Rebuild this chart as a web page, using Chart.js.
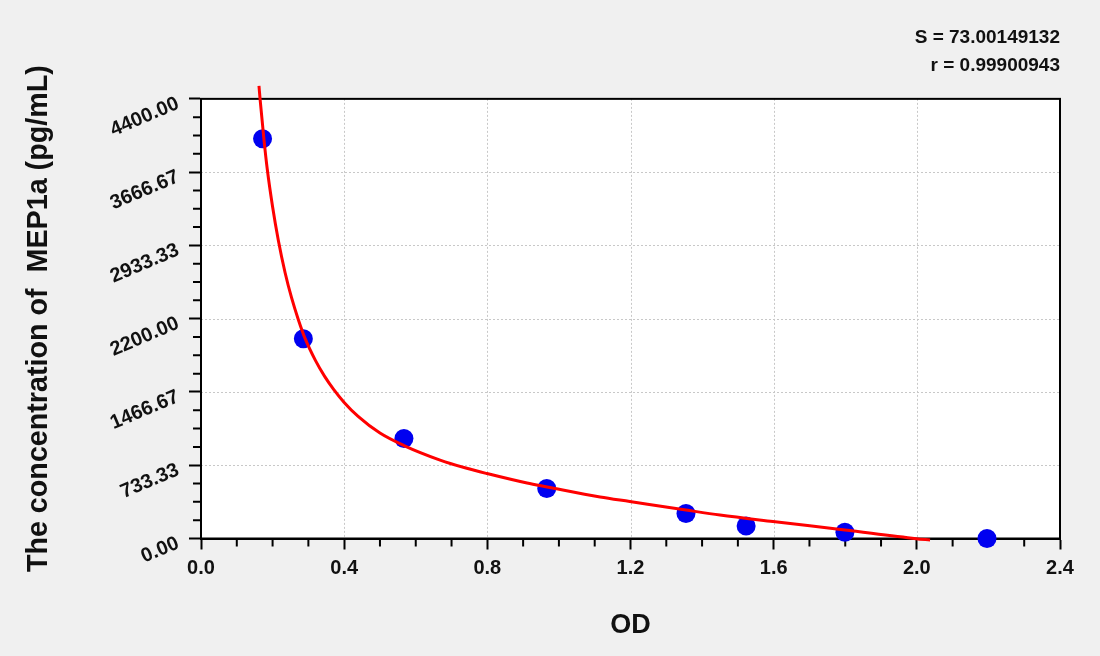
<!DOCTYPE html>
<html><head><meta charset="utf-8">
<script src="https://cdn.jsdelivr.net/npm/chart.js@4.4.1/dist/chart.umd.min.js"></script>
<style>html,body{margin:0;padding:0;background:#f0f0f0;}canvas{display:block;}</style>
</head><body>
<canvas id="c" width="1100" height="656"></canvas>
<script>
// Standards (OD vs concentration)
const standardOD = [0.172, 0.286, 0.567, 0.966, 1.355, 1.523, 1.799, 2.196];
const standardConc = [4000, 2000, 1000, 500, 250, 125, 62.5, 0];
// Fitted curve
const fitOD = [0.162, 0.165, 0.176, 0.185, 0.200, 0.216, 0.235, 0.253, 0.272, 0.291, 0.320, 0.345, 0.370, 0.400, 0.439, 0.500, 0.567, 0.668, 0.740, 0.799, 0.911, 0.967, 1.115, 1.198, 1.355, 1.450, 1.598, 1.799, 1.998, 2.037];
const fitConc = [4530, 4400, 3990, 3700, 3320, 2985, 2660, 2410, 2190, 2000, 1780, 1625, 1495, 1362, 1222, 1055, 930, 785, 705, 650, 555, 516, 415, 370, 285, 235, 170, 85, -2, -15];
// Axis ticks
const xTickValues = [0, 0.4, 0.8, 1.2, 1.6, 2.0, 2.4];
const xTickLabels = ['0.0', '0.4', '0.8', '1.2', '1.6', '2.0', '2.4'];
const yTickValues = [0, 733.33, 1466.67, 2200, 2933.33, 3666.67, 4400];
const yTickLabels = ['0.00', '733.33', '1466.67', '2200.00', '2933.33', '3666.67', '4400.00'];
const xMinorPerMajor = 4;
const yMinorPerMajor = 4;
const statLines = ['S = 73.00149132', 'r = 0.99900943'];
const xTitle = 'OD';
const yTitle = 'The concentration of  MEP1a (pg/mL)';

const FONT = 'Liberation Sans, Arial, Helvetica, sans-serif';

const frame = {
  id: 'frame',
  beforeDraw(chart) {
    const {ctx, chartArea: a} = chart;
    ctx.save();
    ctx.fillStyle = '#ffffff';
    ctx.fillRect(a.left, a.top, a.right - a.left, a.bottom - a.top);
    ctx.restore();
  },
  beforeDatasetsDraw(chart) {
    const {ctx, chartArea: a, scales: {x: xs, y: ys}} = chart;
    ctx.save();
    ctx.strokeStyle = '#c8c8c8';
    ctx.lineWidth = 1;
    ctx.setLineDash([2, 2]);
    ctx.beginPath();
    xTickValues.slice(1, -1).forEach(v => {
      const p = Math.round(xs.getPixelForValue(v)) + 0.5;
      ctx.moveTo(p, a.top); ctx.lineTo(p, a.bottom);
    });
    yTickValues.slice(1, -1).forEach(v => {
      const p = Math.round(ys.getPixelForValue(v)) + 0.5;
      ctx.moveTo(a.left, p); ctx.lineTo(a.right, p);
    });
    ctx.stroke();
    ctx.setLineDash([]);
    ctx.strokeStyle = '#000';
    ctx.lineWidth = 2;
    ctx.beginPath();
    for (let i = 0; i < xTickValues.length - 1; i++) {
      const v0 = xTickValues[i], v1 = xTickValues[i + 1];
      for (let k = 1; k < xMinorPerMajor; k++) {
        const p = xs.getPixelForValue(v0 + (v1 - v0) * k / xMinorPerMajor);
        ctx.moveTo(p, a.bottom); ctx.lineTo(p, a.bottom + 8);
      }
    }
    for (let i = 0; i < yTickValues.length - 1; i++) {
      const v0 = yTickValues[i], v1 = yTickValues[i + 1];
      for (let k = 1; k < yMinorPerMajor; k++) {
        const p = ys.getPixelForValue(v0 + (v1 - v0) * k / yMinorPerMajor);
        ctx.moveTo(a.left - 8, p); ctx.lineTo(a.left, p);
      }
    }
    ctx.stroke();
    ctx.strokeStyle = '#000';
    ctx.lineWidth = 2;
    ctx.strokeRect(a.left, a.top, a.right - a.left, a.bottom - a.top);
    ctx.restore();
  }
};

new Chart(document.getElementById('c'), {
  type: 'scatter',
  data: {
    datasets: [
      {
        label: 'fit',
        data: fitOD.map((x, i) => ({x, y: fitConc[i]})),
        showLine: true,
        borderColor: '#ff0000',
        borderWidth: 3,
        pointRadius: 0,
        cubicInterpolationMode: 'monotone',
        clip: false
      },
      {
        label: 'standards',
        data: standardOD.map((x, i) => ({x, y: standardConc[i]})),
        backgroundColor: '#0000f0',
        borderColor: '#0000f0',
        borderWidth: 0,
        pointRadius: 9.5,
        clip: false
      }
    ]
  },
  options: {
    responsive: false,
    animation: false,
    devicePixelRatio: 1,
    layout: {padding: {left: 0, right: 40, top: 0, bottom: 0}},
    plugins: {
      legend: {display: false},
      tooltip: {enabled: false},
      title: {
        display: true,
        text: statLines,
        align: 'end',
        color: '#111',
        font: {family: FONT, size: 19, weight: 'bold', lineHeight: 1.47},
        padding: {top: 24, bottom: 19}
      }
    },
    scales: {
      x: {
        type: 'linear',
        min: 0, max: 2.4,
        afterBuildTicks: s => { s.ticks = xTickValues.map(v => ({value: v})); },
        afterFit: s => { s.height = 117.5; },
        ticks: {
          callback: (v, i) => xTickLabels[i],
          color: '#111',
          font: {family: FONT, size: 20, weight: 'bold'},
          padding: 6.5,
          autoSkip: false,
          maxRotation: 0
        },
        grid: {drawOnChartArea: false, drawTicks: true, tickLength: 11, tickColor: '#000', tickWidth: 2},
        border: {display: true, color: '#000', width: 2},
        title: {display: true, text: xTitle, color: '#111', font: {family: FONT, size: 27, weight: 'bold'}, padding: {top: 0, bottom: 14}}
      },
      y: {
        type: 'linear',
        min: 0, max: 4400,
        afterBuildTicks: s => { s.ticks = yTickValues.map(v => ({value: v})); },
        afterFit: s => { s.width = 201; },
        ticks: {
          callback: (v, i) => yTickLabels[i],
          color: '#111',
          font: {family: FONT, size: 20, weight: 'bold'},
          padding: 11,
          minRotation: 23, maxRotation: 23,
          labelOffset: 4,
          autoSkip: false
        },
        grid: {drawOnChartArea: false, drawTicks: true, tickLength: 12, tickColor: '#000', tickWidth: 2},
        border: {display: true, color: '#000', width: 2},
        title: {display: true, text: yTitle, color: '#111', font: {family: FONT, size: 28.7, weight: 'bold'}, padding: {top: 22, bottom: 0}}
      }
    }
  },
  plugins: [frame]
});
</script>
</body></html>
